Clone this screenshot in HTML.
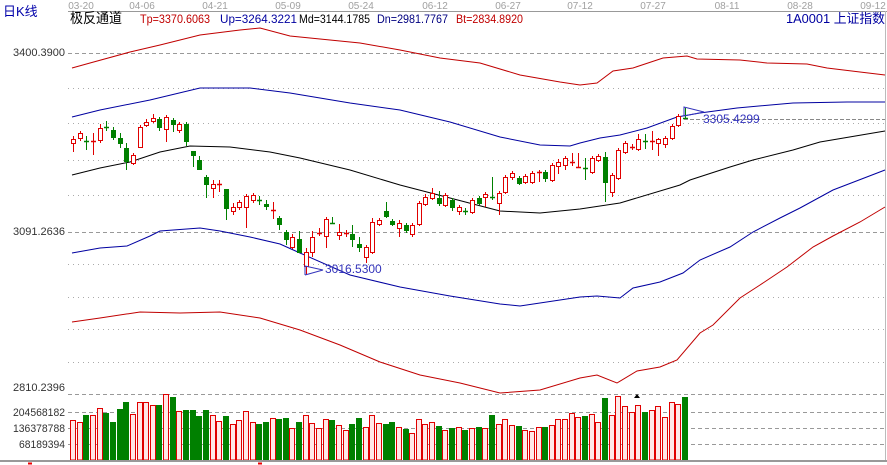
<!DOCTYPE html>
<html><head><meta charset="utf-8"><style>
body{margin:0;background:#fff;}
svg{display:block;font-family:"Liberation Sans","Noto Sans CJK SC",sans-serif;}
</style></head><body>
<svg id="s" width="887" height="465" viewBox="0 0 887 465" xmlns="http://www.w3.org/2000/svg">
<rect width="887" height="465" fill="#fff"/>
<g font-size="10" fill="#a0a0a0" text-anchor="middle">
<text x="81" y="9">03-20</text><text x="142" y="9">04-06</text><text x="215" y="9">04-21</text><text x="288" y="9">05-09</text><text x="361" y="9">05-24</text><text x="435" y="9">06-12</text><text x="508" y="9">06-27</text><text x="580" y="9">07-12</text><text x="653" y="9">07-27</text><text x="727" y="9">08-11</text><text x="800" y="9">08-28</text><text x="873" y="9">09-12</text>
</g>
<line x1="68" y1="11.5" x2="887" y2="11.5" stroke="#999" stroke-width="1"/>
<line x1="885.5" y1="11" x2="885.5" y2="462" stroke="#bbb"/>
<text x="3" y="16" font-size="13" fill="#0000aa">日K线</text>
<text x="70" y="23" font-size="14" fill="#000" textLength="52" lengthAdjust="spacingAndGlyphs">极反通道</text>
<g font-size="12" lengthAdjust="spacingAndGlyphs">
<text x="140" y="23" fill="#c00000" textLength="70" lengthAdjust="spacingAndGlyphs">Tp=3370.6063</text>
<text x="220" y="23" fill="#0000a0" textLength="77" lengthAdjust="spacingAndGlyphs">Up=3264.3221</text>
<text x="299" y="23" fill="#000" textLength="71" lengthAdjust="spacingAndGlyphs">Md=3144.1785</text>
<text x="377" y="23" fill="#000080" textLength="71" lengthAdjust="spacingAndGlyphs">Dn=2981.7767</text>
<text x="456" y="23" fill="#c00000" textLength="67" lengthAdjust="spacingAndGlyphs">Bt=2834.8920</text>
<text x="786" y="23" fill="#0000a0" font-size="13" textLength="99" lengthAdjust="spacingAndGlyphs">1A0001 上证指数</text>
</g>
<g font-size="11" fill="#333">
<text x="13" y="56" textLength="52" lengthAdjust="spacingAndGlyphs">3400.3900</text>
<text x="13" y="235" textLength="52" lengthAdjust="spacingAndGlyphs">3091.2636</text>
<text x="13" y="391" textLength="52" lengthAdjust="spacingAndGlyphs">2810.2396</text>
<text x="13" y="416" textLength="52" lengthAdjust="spacingAndGlyphs">204568182</text>
<text x="13" y="432" textLength="52" lengthAdjust="spacingAndGlyphs">136378788</text>
<text x="19" y="448" textLength="46" lengthAdjust="spacingAndGlyphs">68189394</text>
</g>
<g id="grid" stroke="#aaa" stroke-width="1"></g>
<g id="lines" fill="none" stroke-width="1"></g>
<g id="vol"></g>
<g id="cdl"></g>
<line x1="0" y1="461" x2="887" y2="461" stroke="#999" stroke-width="2"/>
<line x1="28" y1="463.5" x2="32" y2="463.5" stroke="#e00" stroke-width="2"/>
<line x1="258" y1="463.5" x2="262" y2="463.5" stroke="#e00" stroke-width="2"/>
<polygon points="634,398 637,394 640,398" fill="#000"/>
<line x1="684" y1="119.5" x2="885" y2="119.5" stroke="#888" stroke-dasharray="4,2"/>
<polyline points="684,116 684,107 704,112 684,116" fill="none" stroke="#3333bb"/>
<text x="703" y="123" font-size="12" fill="#3333bb">3305.4299</text>
<polyline points="305,275 305,266 323,270 305,275" fill="none" stroke="#3333bb"/>
<text x="325" y="273" font-size="12" fill="#3333bb">3016.5300</text>
</svg>
<script>
var NS="http://www.w3.org/2000/svg";
function el(p,t,a){var e=document.createElementNS(NS,t);for(var k in a)e.setAttribute(k,a[k]);document.getElementById(p).appendChild(e);return e;}
var gl=[[53,1],[88,0],[123,0],[160,0],[195,0],[232,1],[264,0],[297,0],[329,0],[362,0],[394,1],[412,1],[428,1],[444,1]];
gl.forEach(function(g){el("grid","line",{x1:68,x2:885,y1:g[0]+.5,y2:g[0]+.5,"stroke-dasharray":g[1]?"4,3":"1,4",stroke:g[1]?"#999":"#aaa"});});
var L=[
["#c00000","72,68 90,63 130,52 160,45 200,35 240,30 260,28 290,36 330,40 360,43 400,50 440,58 480,63 520,75 560,82 580,85 597,83 613,71 633,68 663,58 687,56 697,59 740,60 767,63 807,64 827,68 860,72 885,75"],
["#0000a0","72,117 100,110 150,100 200,88 250,88 290,93 350,103 400,110 450,122 500,137 540,145 570,146 580,143 600,138 620,135 647,128 677,117 700,113 737,108 793,103 847,102 885,102"],
["#000","72,175 100,168 130,162 160,152 190,146 230,147 270,152 300,158 350,170 400,185 450,198 500,211 540,213 580,209 620,203 680,185 690,180 730,167 753,160 793,150 820,142 885,131"],
["#0000a0","72,253 100,248 127,246 150,236 160,231 200,228 220,231 250,237 280,244 300,253 350,275 400,287 450,296 500,304 520,306 560,300 580,297 597,296 620,298 633,288 660,282 683,273 700,260 730,247 753,232 780,218 800,208 833,190 885,170"],
["#c00000","72,322 100,318 140,312 180,313 220,312 260,318 300,330 340,345 380,362 420,375 460,383 500,393 540,390 580,378 597,375 617,383 637,371 660,367 677,360 700,333 713,325 740,298 760,285 787,267 813,247 833,236 860,222 885,207"]];
L.forEach(function(l){el("lines","polyline",{points:l[1],stroke:l[0]});});
var C=[
"r 139 143 136 152","r 133 138 131 141","g 141 141 136 150","r 141 141 133 155","r 128 140 124 143","g 127 127 121 131","g 130 137 127 140","g 138 143 133 148","g 148 161 143 170","r 155 163 153 165",
"r 127 147 125 148","r 122 125 119 127","r 118 121 114 123","g 119 127 117 131","r 117 129 115 142","g 120 124 118 132","r 124 130 122 133","g 124 141 122 146","g 151 155 151 167","g 160 169 156 170",
"g 177 184 175 198","r 184 188 180 198","r 184 184 180 192","g 189 208 189 220","r 207 211 203 215","r 202 207 200 210","r 196 207 194 228","r 195 200 193 203","g 200 200 196 205","g 204 206 200 210",
"r 210 210 202 219","g 218 224 216 230","g 232 239 230 245","r 237 247 234 249","g 239 252 231 253","r 252 266 248 275","r 237 252 231 257","r 233 233 228 236","r 219 236 217 248","g 223 223 217 224",
"r 232 235 224 240","r 233 233 230 237","g 234 239 225 247","g 244 247 237 252","r 247 257 245 263","r 222 252 218 254","r 220 224 218 226","g 211 216 202 218","g 221 224 219 226","r 223 228 220 237",
"g 225 230 223 233","r 225 234 223 237","r 203 224 201 226","r 197 204 194 206","r 193 198 188 200","g 198 203 191 206","r 195 205 193 207","g 200 207 198 211","r 207 211 205 215","g 211 211 208 215",
"r 200 212 198 214","g 198 203 196 205","r 194 197 192 207","g 197 197 177 200","r 193 203 191 215","r 177 192 175 194","r 173 177 171 180","g 178 183 176 185","r 176 182 174 184","r 173 182 171 184",
"r 172 172 170 182","g 172 178 170 182","r 165 180 163 182","r 162 166 159 174","r 158 165 156 170","r 162 162 153 166","r 167 167 153 168","g 168 168 158 180","r 158 172 156 174","r 156 160 154 162",
"g 157 182 152 202","r 175 192 173 197","r 150 178 148 180","r 143 152 141 154","r 147 147 144 150","r 139 149 134 151","g 141 141 134 149","r 141 141 131 150","r 139 143 138 156","r 138 144 136 148",
"r 126 138 124 140","r 116 125 114 127","g 118 118 108 120"];
var R="#e00000",G="#008000";
C.forEach(function(s,i){var p=s.split(" "),c=p[0]=="r"?R:G,x=Math.round(73+i*6.65),t=+p[1],b=+p[2],wt=+p[3],wb=+p[4];
el("cdl","line",{x1:x+.5,x2:x+.5,y1:wt,y2:wb,stroke:c});
if(b-t<1){el("cdl","line",{x1:x-2,x2:x+3,y1:t+.5,y2:t+.5,stroke:c,"stroke-width":1.5});}
else if(p[0]=="r"){el("cdl","rect",{x:x-1.5,y:t+.5,width:4,height:b-t,fill:"#fff",stroke:c});}
else{el("cdl","rect",{x:x-2,y:t,width:5,height:b-t+1,fill:c});}
});
var V=[420,422,415,415,408,413,422,409,402,414,402,402,405,405,394,397,411,410,410,416,410,415,421,416,424,420,411,422,424,422,418,419,418,
428,422,415,423,428,419,420,425,430,424,418,427,415,423,424,422,427,429,433,419,424,422,426,430,428,427,430,428,427,428,415,424,419,425,426,430,431,427,427,425,419,419,413,417,416,414,422,398,415,396,406,412,405,412,410,406,417,402,404,397];
var VC="rrgrrggggrrrrgrgrggggrrgrrrrggrgg"+"rgrrrrgrrggrrrggrgrrrrgrgrgrgrgrrrgrrrgrrrrrgrrgrrrrrgrrrrrg";
V.forEach(function(t,i){var x=Math.round(73+i*6.65),c=VC[i];
if(c=="g")el("vol","rect",{x:x-3,y:t,width:6,height:460-t,fill:G});
else el("vol","rect",{x:x-2.5,y:t+.5,width:5,height:459.5-t,fill:"#ffe8e8",stroke:R});});
</script>
</body></html>
